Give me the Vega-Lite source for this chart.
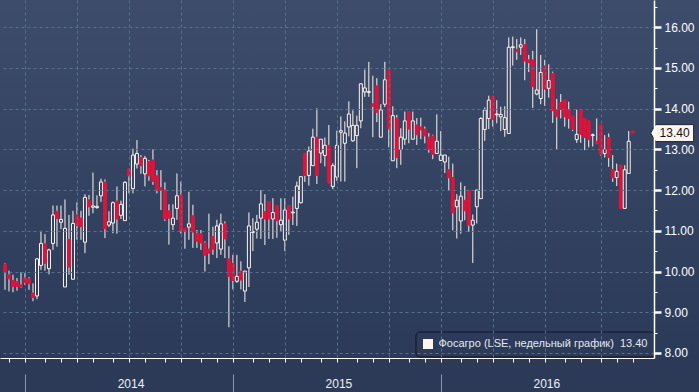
{
  "$schema": "https://vega.github.io/schema/vega-lite/v6.json",
  "width": 654,
  "height": 358,
  "autosize": "none",
  "padding": {"left": 0, "top": 0, "right": 45, "bottom": 34},
  "background": "#2c3a58",
  "config": {
    "view": {"stroke": null, "fill": {"gradient": "linear", "x1": 0, "y1": 0, "x2": 0, "y2": 1, "stops": [{"offset": 0, "color": "#3d4c6a"}, {"offset": 1, "color": "#2c3a59"}]}},
    "font": "Liberation Sans",
    "legend": {
      "orient": "none", "legendX": 415.5, "legendY": 331.5,
      "strokeColor": "#0e1522", "cornerRadius": 4, "padding": 7,
      "symbolType": "square", "symbolSize": 100, "symbolStrokeWidth": 0, "symbolOpacity": 1,
      "labelColor": "#e6e8ec", "labelFont": "Liberation Sans", "labelFontSize": 11, "labelOffset": 5, "labelLimit": 400
    }
  },
  "data": {"values": [
    {"date": "2013-11-29", "open": 10.17, "high": 10.2, "low": 9.55, "close": 10.0},
    {"date": "2013-12-06", "open": 9.92, "high": 10.02, "low": 9.51, "close": 9.82},
    {"date": "2013-12-13", "open": 9.78, "high": 9.92, "low": 9.49, "close": 9.63},
    {"date": "2013-12-20", "open": 9.75, "high": 9.84, "low": 9.53, "close": 9.63},
    {"date": "2013-12-27", "open": 9.67, "high": 9.98, "low": 9.6, "close": 9.62},
    {"date": "2014-01-03", "open": 9.84, "high": 9.96, "low": 9.67, "close": 9.73},
    {"date": "2014-01-10", "open": 9.82, "high": 9.86, "low": 9.55, "close": 9.7},
    {"date": "2014-01-17", "open": 9.47, "high": 9.71, "low": 9.27, "close": 9.36},
    {"date": "2014-01-24", "open": 9.4, "high": 10.33, "low": 9.32, "close": 10.31},
    {"date": "2014-01-31", "open": 10.15, "high": 11.0, "low": 10.04, "close": 10.69},
    {"date": "2014-02-07", "open": 10.68, "high": 10.92, "low": 10.02, "close": 10.2},
    {"date": "2014-02-14", "open": 10.07, "high": 10.56, "low": 9.93, "close": 10.53},
    {"date": "2014-02-21", "open": 10.69, "high": 11.62, "low": 10.53, "close": 11.39},
    {"date": "2014-02-28", "open": 11.48, "high": 11.62, "low": 10.61, "close": 11.3},
    {"date": "2014-03-07", "open": 11.21, "high": 11.62, "low": 11.04, "close": 11.28},
    {"date": "2014-03-14", "open": 9.62, "high": 11.77, "low": 9.62, "close": 11.06},
    {"date": "2014-03-21", "open": 10.79, "high": 11.39, "low": 9.92, "close": 10.11},
    {"date": "2014-03-28", "open": 9.81, "high": 11.49, "low": 9.81, "close": 11.18},
    {"date": "2014-04-04", "open": 11.39, "high": 11.7, "low": 10.78, "close": 11.13},
    {"date": "2014-04-11", "open": 11.31, "high": 11.49, "low": 10.78, "close": 11.1},
    {"date": "2014-04-18", "open": 10.72, "high": 11.9, "low": 10.45, "close": 11.82},
    {"date": "2014-04-25", "open": 11.76, "high": 11.88, "low": 11.37, "close": 11.59},
    {"date": "2014-05-02", "open": 11.58, "high": 12.43, "low": 11.43, "close": 11.61},
    {"date": "2014-05-09", "open": 11.57, "high": 11.87, "low": 11.54, "close": 11.6},
    {"date": "2014-05-16", "open": 11.86, "high": 12.28, "low": 11.71, "close": 12.2},
    {"date": "2014-05-23", "open": 12.2, "high": 12.26, "low": 10.82, "close": 11.05},
    {"date": "2014-05-30", "open": 11.14, "high": 11.48, "low": 11.09, "close": 11.22},
    {"date": "2014-06-06", "open": 11.19, "high": 11.72, "low": 10.94, "close": 11.69},
    {"date": "2014-06-13", "open": 11.73, "high": 12.09, "low": 10.93, "close": 11.29},
    {"date": "2014-06-20", "open": 11.38, "high": 11.74, "low": 11.29, "close": 11.65},
    {"date": "2014-06-27", "open": 11.25, "high": 12.22, "low": 11.25, "close": 12.19},
    {"date": "2014-07-04", "open": 12.52, "high": 12.52, "low": 11.92, "close": 12.35},
    {"date": "2014-07-11", "open": 12.04, "high": 13.02, "low": 11.92, "close": 12.86},
    {"date": "2014-07-18", "open": 12.64, "high": 13.23, "low": 12.53, "close": 12.9},
    {"date": "2014-07-25", "open": 12.8, "high": 12.86, "low": 12.4, "close": 12.6},
    {"date": "2014-08-01", "open": 12.4, "high": 12.84, "low": 12.09, "close": 12.78},
    {"date": "2014-08-08", "open": 12.7, "high": 12.74, "low": 12.23, "close": 12.35},
    {"date": "2014-08-15", "open": 12.74, "high": 13.0, "low": 12.13, "close": 12.21},
    {"date": "2014-08-22", "open": 12.35, "high": 12.49, "low": 11.92, "close": 12.0},
    {"date": "2014-08-29", "open": 12.06, "high": 12.49, "low": 11.51, "close": 12.0},
    {"date": "2014-09-05", "open": 12.0, "high": 12.19, "low": 11.24, "close": 11.29},
    {"date": "2014-09-12", "open": 11.49, "high": 11.65, "low": 10.66, "close": 11.31},
    {"date": "2014-09-19", "open": 11.15, "high": 11.65, "low": 11.02, "close": 11.31},
    {"date": "2014-09-26", "open": 11.55, "high": 12.41, "low": 11.27, "close": 11.86},
    {"date": "2014-10-03", "open": 11.88, "high": 12.21, "low": 10.93, "close": 11.0},
    {"date": "2014-10-10", "open": 11.05, "high": 11.05, "low": 10.56, "close": 11.0},
    {"date": "2014-10-17", "open": 11.09, "high": 11.96, "low": 10.78, "close": 11.17},
    {"date": "2014-10-24", "open": 11.37, "high": 11.64, "low": 10.58, "close": 10.97},
    {"date": "2014-10-31", "open": 10.94, "high": 11.02, "low": 10.58, "close": 10.74},
    {"date": "2014-11-07", "open": 10.93, "high": 11.02, "low": 10.53, "close": 10.7},
    {"date": "2014-11-14", "open": 10.7, "high": 10.74, "low": 10.0, "close": 10.4},
    {"date": "2014-11-21", "open": 10.55, "high": 11.42, "low": 10.18, "close": 10.45},
    {"date": "2014-11-28", "open": 10.86, "high": 11.1, "low": 10.41, "close": 10.55},
    {"date": "2014-12-05", "open": 10.7, "high": 11.27, "low": 10.33, "close": 11.12},
    {"date": "2014-12-12", "open": 10.55, "high": 11.42, "low": 10.41, "close": 11.17},
    {"date": "2014-12-19", "open": 11.17, "high": 11.23, "low": 10.33, "close": 10.8},
    {"date": "2014-12-26", "open": 10.31, "high": 10.62, "low": 8.63, "close": 9.88},
    {"date": "2015-01-02", "open": 10.2, "high": 10.41, "low": 9.56, "close": 9.78},
    {"date": "2015-01-09", "open": 9.76, "high": 10.41, "low": 9.72, "close": 9.88},
    {"date": "2015-01-16", "open": 10.01, "high": 10.25, "low": 9.56, "close": 9.79},
    {"date": "2015-01-23", "open": 9.52, "high": 10.01, "low": 9.25, "close": 10.01},
    {"date": "2015-01-30", "open": 10.09, "high": 11.45, "low": 9.62, "close": 11.12},
    {"date": "2015-02-06", "open": 10.96, "high": 11.31, "low": 10.5, "close": 10.98},
    {"date": "2015-02-13", "open": 11.04, "high": 11.39, "low": 10.81, "close": 11.21},
    {"date": "2015-02-20", "open": 11.31, "high": 12.0, "low": 10.8, "close": 11.66},
    {"date": "2015-02-27", "open": 11.47, "high": 11.9, "low": 10.65, "close": 11.29},
    {"date": "2015-03-06", "open": 11.72, "high": 11.72, "low": 10.8, "close": 11.29},
    {"date": "2015-03-13", "open": 11.29, "high": 11.8, "low": 10.8, "close": 11.45},
    {"date": "2015-03-20", "open": 11.62, "high": 11.62, "low": 10.83, "close": 11.25},
    {"date": "2015-03-27", "open": 11.15, "high": 11.8, "low": 10.98, "close": 11.26},
    {"date": "2015-04-03", "open": 10.77, "high": 11.8, "low": 10.5, "close": 11.51},
    {"date": "2015-04-10", "open": 11.62, "high": 11.62, "low": 10.9, "close": 11.29},
    {"date": "2015-04-17", "open": 11.44, "high": 11.84, "low": 11.14, "close": 11.46},
    {"date": "2015-04-24", "open": 11.55, "high": 12.21, "low": 11.12, "close": 12.1},
    {"date": "2015-05-01", "open": 11.69, "high": 12.33, "low": 11.67, "close": 12.33},
    {"date": "2015-05-08", "open": 12.91, "high": 12.91, "low": 12.2, "close": 12.36},
    {"date": "2015-05-15", "open": 12.36, "high": 13.07, "low": 12.11, "close": 12.96},
    {"date": "2015-05-22", "open": 12.6, "high": 13.51, "low": 12.6, "close": 13.3},
    {"date": "2015-05-29", "open": 13.3, "high": 14.01, "low": 12.15, "close": 12.36},
    {"date": "2015-06-05", "open": 12.91, "high": 13.25, "low": 12.66, "close": 13.25},
    {"date": "2015-06-12", "open": 12.85, "high": 13.29, "low": 12.58, "close": 13.1},
    {"date": "2015-06-19", "open": 13.1, "high": 13.6, "low": 12.17, "close": 12.18},
    {"date": "2015-06-26", "open": 12.09, "high": 12.66, "low": 12.02, "close": 12.6},
    {"date": "2015-07-03", "open": 12.32, "high": 13.46, "low": 12.23, "close": 13.1},
    {"date": "2015-07-10", "open": 13.42, "high": 13.81, "low": 12.21, "close": 13.46},
    {"date": "2015-07-17", "open": 13.15, "high": 13.69, "low": 12.21, "close": 13.4},
    {"date": "2015-07-24", "open": 13.55, "high": 14.18, "low": 13.32, "close": 13.87},
    {"date": "2015-07-31", "open": 13.21, "high": 13.96, "low": 13.19, "close": 13.59},
    {"date": "2015-08-07", "open": 13.34, "high": 13.83, "low": 12.54, "close": 13.59},
    {"date": "2015-08-14", "open": 13.7, "high": 14.63, "low": 13.52, "close": 14.61},
    {"date": "2015-08-21", "open": 14.41, "high": 14.96, "low": 14.29, "close": 14.51},
    {"date": "2015-08-28", "open": 14.4, "high": 15.15, "low": 14.29, "close": 14.42},
    {"date": "2015-09-04", "open": 14.12, "high": 14.81, "low": 13.3, "close": 14.06},
    {"date": "2015-09-11", "open": 14.56, "high": 14.75, "low": 13.67, "close": 13.91},
    {"date": "2015-09-18", "open": 13.3, "high": 14.11, "low": 13.3, "close": 13.97},
    {"date": "2015-09-25", "open": 14.11, "high": 15.15, "low": 14.04, "close": 14.71},
    {"date": "2015-10-02", "open": 14.96, "high": 14.96, "low": 13.05, "close": 13.5},
    {"date": "2015-10-09", "open": 12.72, "high": 14.06, "low": 12.72, "close": 13.83},
    {"date": "2015-10-16", "open": 13.77, "high": 13.85, "low": 12.54, "close": 12.8},
    {"date": "2015-10-23", "open": 13.0, "high": 13.52, "low": 12.62, "close": 13.3},
    {"date": "2015-10-30", "open": 13.25, "high": 13.93, "low": 13.11, "close": 13.7},
    {"date": "2015-11-06", "open": 13.93, "high": 13.93, "low": 13.15, "close": 13.5},
    {"date": "2015-11-13", "open": 13.25, "high": 13.93, "low": 13.25, "close": 13.7},
    {"date": "2015-11-20", "open": 13.6, "high": 13.77, "low": 13.11, "close": 13.36},
    {"date": "2015-11-27", "open": 13.55, "high": 13.78, "low": 13.25, "close": 13.48},
    {"date": "2015-12-04", "open": 13.5, "high": 13.56, "low": 13.15, "close": 13.33},
    {"date": "2015-12-11", "open": 13.3, "high": 13.4, "low": 12.92, "close": 13.0},
    {"date": "2015-12-18", "open": 13.33, "high": 13.36, "low": 12.76, "close": 12.88},
    {"date": "2015-12-25", "open": 12.9, "high": 13.86, "low": 12.9, "close": 13.2},
    {"date": "2016-01-01", "open": 12.73, "high": 13.45, "low": 12.72, "close": 12.86},
    {"date": "2016-01-08", "open": 12.69, "high": 12.86, "low": 12.42, "close": 12.86},
    {"date": "2016-01-15", "open": 12.5, "high": 12.82, "low": 12.0, "close": 12.3},
    {"date": "2016-01-22", "open": 12.31, "high": 12.65, "low": 11.01, "close": 11.44},
    {"date": "2016-01-29", "open": 11.59, "high": 11.9, "low": 10.81, "close": 11.75},
    {"date": "2016-02-05", "open": 11.24, "high": 12.19, "low": 10.93, "close": 11.85},
    {"date": "2016-02-12", "open": 11.75, "high": 12.1, "low": 11.26, "close": 11.49},
    {"date": "2016-02-19", "open": 12.0, "high": 12.0, "low": 10.97, "close": 11.14},
    {"date": "2016-02-26", "open": 11.14, "high": 11.4, "low": 10.21, "close": 11.26},
    {"date": "2016-03-04", "open": 11.59, "high": 12.0, "low": 11.18, "close": 12.0},
    {"date": "2016-03-11", "open": 11.79, "high": 13.79, "low": 11.79, "close": 13.76},
    {"date": "2016-03-18", "open": 13.49, "high": 14.03, "low": 13.21, "close": 13.97},
    {"date": "2016-03-25", "open": 13.76, "high": 14.32, "low": 13.5, "close": 14.21},
    {"date": "2016-04-01", "open": 14.31, "high": 14.31, "low": 13.56, "close": 13.74},
    {"date": "2016-04-08", "open": 13.85, "high": 14.21, "low": 13.64, "close": 13.87},
    {"date": "2016-04-15", "open": 13.8, "high": 14.05, "low": 13.45, "close": 13.86},
    {"date": "2016-04-22", "open": 13.49, "high": 14.06, "low": 13.31, "close": 13.78},
    {"date": "2016-04-29", "open": 13.39, "high": 15.75, "low": 13.39, "close": 15.51},
    {"date": "2016-05-06", "open": 15.5, "high": 15.77, "low": 15.06, "close": 15.52},
    {"date": "2016-05-13", "open": 15.46, "high": 15.71, "low": 15.2, "close": 15.4},
    {"date": "2016-05-20", "open": 15.51, "high": 15.75, "low": 15.32, "close": 15.57},
    {"date": "2016-05-27", "open": 15.57, "high": 15.71, "low": 14.7, "close": 15.17},
    {"date": "2016-06-03", "open": 15.2, "high": 15.32, "low": 14.9, "close": 15.13},
    {"date": "2016-06-10", "open": 15.2, "high": 15.42, "low": 14.02, "close": 14.54},
    {"date": "2016-06-17", "open": 14.36, "high": 15.95, "low": 14.33, "close": 14.46},
    {"date": "2016-06-24", "open": 14.25, "high": 15.32, "low": 14.11, "close": 14.89},
    {"date": "2016-07-01", "open": 15.05, "high": 15.2, "low": 14.07, "close": 14.48},
    {"date": "2016-07-08", "open": 14.5, "high": 15.09, "low": 14.27, "close": 14.69},
    {"date": "2016-07-15", "open": 14.87, "high": 14.91, "low": 13.65, "close": 13.95},
    {"date": "2016-07-22", "open": 13.98, "high": 14.24, "low": 13.0, "close": 13.8},
    {"date": "2016-07-29", "open": 14.15, "high": 14.36, "low": 13.76, "close": 13.98},
    {"date": "2016-08-05", "open": 14.21, "high": 14.21, "low": 13.56, "close": 13.8},
    {"date": "2016-08-12", "open": 13.97, "high": 14.17, "low": 13.51, "close": 13.76},
    {"date": "2016-08-19", "open": 13.82, "high": 13.82, "low": 13.45, "close": 13.49},
    {"date": "2016-08-26", "open": 13.24, "high": 13.98, "low": 13.16, "close": 13.37},
    {"date": "2016-09-02", "open": 13.98, "high": 13.98, "low": 13.16, "close": 13.37},
    {"date": "2016-09-09", "open": 13.76, "high": 13.76, "low": 12.98, "close": 13.29},
    {"date": "2016-09-16", "open": 13.7, "high": 13.7, "low": 13.05, "close": 13.24},
    {"date": "2016-09-23", "open": 13.34, "high": 13.39, "low": 13.07, "close": 13.36},
    {"date": "2016-09-30", "open": 13.2, "high": 13.76, "low": 13.13, "close": 13.15},
    {"date": "2016-10-07", "open": 13.6, "high": 13.6, "low": 12.85, "close": 12.88},
    {"date": "2016-10-14", "open": 12.9, "high": 13.35, "low": 12.8, "close": 13.0},
    {"date": "2016-10-21", "open": 13.29, "high": 13.39, "low": 12.57, "close": 12.8},
    {"date": "2016-10-28", "open": 12.51, "high": 12.86, "low": 12.2, "close": 12.3},
    {"date": "2016-11-04", "open": 12.31, "high": 12.65, "low": 12.1, "close": 12.46},
    {"date": "2016-11-11", "open": 12.61, "high": 12.61, "low": 11.55, "close": 11.55},
    {"date": "2016-11-18", "open": 11.55, "high": 12.61, "low": 11.55, "close": 12.5},
    {"date": "2016-11-25", "open": 12.41, "high": 13.45, "low": 12.41, "close": 13.2},
    {"date": "2016-12-02", "open": 13.45, "high": 13.45, "low": 13.4, "close": 13.4}
  ]},
  "resolve": {"axis": {"x": "independent", "y": "independent"}},
  "layer": [
    {
      "mark": {"type": "rect", "fill": {"gradient": "linear", "x1": 0, "y1": 0, "x2": 0, "y2": 1, "stops": [{"offset": 0, "color": "#3d4c6a"}, {"offset": 1, "color": "#2c3a59"}]}, "clip": false},
      "encoding": {
        "x": {"datum": {"year": 2016, "month": 12, "date": 30, "hours": 12, "utc": true}, "type": "temporal", "axis": null},
        "x2": {"datum": {"year": 2017, "month": 3, "date": 31, "utc": true}},
        "y": {"datum": 16.67, "type": "quantitative", "axis": null},
        "y2": {"datum": 7.875}
      }
    },
    {
      "mark": {"type": "rule", "color": "#fff3ec", "strokeWidth": 1},
      "encoding": {
        "x": {
          "field": "date", "type": "temporal",
          "scale": {"type": "utc", "domain": [{"year": 2013, "month": 11, "date": 29, "utc": true}, {"year": 2016, "month": 12, "date": 30, "hours": 12, "utc": true}]},
          "axis": {
            "orient": "bottom", "title": null, "labels": false, "zindex": 1,
            "values": [
              {"year": 2013, "month": 12, "date": 6, "utc": true},
              {"year": 2014, "month": 1, "date": 3, "utc": true}, {"year": 2014, "month": 2, "date": 7, "utc": true}, {"year": 2014, "month": 3, "date": 7, "utc": true}, {"year": 2014, "month": 4, "date": 4, "utc": true}, {"year": 2014, "month": 5, "date": 2, "utc": true}, {"year": 2014, "month": 6, "date": 6, "utc": true}, {"year": 2014, "month": 7, "date": 4, "utc": true}, {"year": 2014, "month": 8, "date": 1, "utc": true}, {"year": 2014, "month": 9, "date": 5, "utc": true}, {"year": 2014, "month": 10, "date": 3, "utc": true}, {"year": 2014, "month": 11, "date": 7, "utc": true}, {"year": 2014, "month": 12, "date": 5, "utc": true},
              {"year": 2015, "month": 1, "date": 2, "utc": true}, {"year": 2015, "month": 2, "date": 6, "utc": true}, {"year": 2015, "month": 3, "date": 6, "utc": true}, {"year": 2015, "month": 4, "date": 3, "utc": true}, {"year": 2015, "month": 5, "date": 1, "utc": true}, {"year": 2015, "month": 6, "date": 5, "utc": true}, {"year": 2015, "month": 7, "date": 3, "utc": true}, {"year": 2015, "month": 8, "date": 7, "utc": true}, {"year": 2015, "month": 9, "date": 4, "utc": true}, {"year": 2015, "month": 10, "date": 2, "utc": true}, {"year": 2015, "month": 11, "date": 6, "utc": true}, {"year": 2015, "month": 12, "date": 4, "utc": true},
              {"year": 2016, "month": 1, "date": 1, "utc": true}, {"year": 2016, "month": 2, "date": 5, "utc": true}, {"year": 2016, "month": 3, "date": 4, "utc": true}, {"year": 2016, "month": 4, "date": 1, "utc": true}, {"year": 2016, "month": 5, "date": 6, "utc": true}, {"year": 2016, "month": 6, "date": 3, "utc": true}, {"year": 2016, "month": 7, "date": 1, "utc": true}, {"year": 2016, "month": 8, "date": 5, "utc": true}, {"year": 2016, "month": 9, "date": 2, "utc": true}, {"year": 2016, "month": 10, "date": 7, "utc": true}, {"year": 2016, "month": 11, "date": 4, "utc": true}, {"year": 2016, "month": 12, "date": 2, "utc": true}
            ],
            "domain": true, "domainColor": "#ffffff", "domainWidth": 1,
            "ticks": true, "tickSize": 4, "tickColor": "#ffffff", "tickWidth": 1,
            "grid": true, "gridColor": "#56718f", "gridDash": [3, 3], "gridWidth": 1,
            "gridOpacity": {"condition": {"test": "utcmonth(datum.value) % 3 === 0", "value": 1}, "value": 0}
          }
        },
        "y": {
          "field": "high", "type": "quantitative",
          "scale": {"domain": [7.875, 16.67], "nice": false, "zero": false},
          "axis": {
            "orient": "right", "title": null, "zindex": 1,
            "values": [8, 8.5, 9, 9.5, 10, 10.5, 11, 11.5, 12, 12.5, 13, 13.5, 14, 14.5, 15, 15.5, 16, 16.5],
            "labelExpr": "datum.value % 1 === 0 ? format(datum.value, '.2f') : ''",
            "tickSize": {"condition": {"test": "datum.value % 1 === 0", "value": 7}, "value": 3},
            "tickWidth": {"condition": {"test": "datum.value % 1 === 0", "value": 2.5}, "value": 1},
            "tickColor": "#ffffff",
            "domainColor": "#ffffff", "domainWidth": 1.5,
            "grid": true, "gridColor": "#56718f", "gridDash": [3, 3], "gridWidth": 1,
            "gridOpacity": {"condition": {"test": "datum.value % 1 === 0", "value": 1}, "value": 0},
            "labelColor": "#ffffff", "labelFont": "Liberation Sans", "labelFontSize": 12, "labelPadding": 3,
            "labelOverlap": false, "labelFlush": false, "labelBound": false
          }
        },
        "y2": {"field": "close"}
      }
    },
    {
      "mark": {"type": "rule", "color": "#fff3ec", "strokeWidth": 1},
      "encoding": {
        "x": {"field": "date", "type": "temporal", "axis": null},
        "y": {"field": "low", "type": "quantitative", "axis": null},
        "y2": {"field": "open"}
      }
    },
    {
      "mark": {"type": "bar", "size": 3, "strokeWidth": 1},
      "encoding": {
        "x": {
          "field": "date", "type": "temporal",
          "axis": {
            "orient": "bottom", "offset": 16, "title": null, "zindex": 1,
            "values": [{"year": 2014, "month": 1, "date": 3, "utc": true}, {"year": 2015, "month": 1, "date": 2, "utc": true}, {"year": 2016, "month": 1, "date": 1, "utc": true}],
            "domain": false, "grid": false,
            "ticks": true, "tickSize": 18, "tickColor": "#8e98ab", "tickWidth": 1,
            "labelExpr": "utcFormat(datum.value, '%Y')",
            "labelOffset": 105.5, "labelPadding": -14, "labelColor": "#eef0f4",
            "labelFont": "Liberation Sans", "labelFontSize": 12,
            "labelFlush": false, "labelOverlap": false, "labelBound": false
          }
        },
        "y": {"field": "open", "type": "quantitative", "axis": null},
        "y2": {"field": "close"},
        "fill": {"condition": {"test": "datum.close < datum.open", "value": "#dc143c"}, "value": "transparent"},
        "stroke": {"condition": {"test": "datum.close < datum.open", "value": "#dc143c"}, "value": "#fff3ec"}
      }
    },
    {
      "transform": [{"filter": {"field": "date", "timeUnit": "utcyearmonthdate", "equal": {"year": 2016, "month": 12, "date": 2, "utc": true}}}],
      "mark": {"type": "point", "filled": true, "opacity": 1, "shape": "M-1,0L-0.77,-0.395L1,-0.395L1,0.395L-0.77,0.395Z", "size": 1849, "stroke": "#1a2233", "strokeWidth": 1},
      "encoding": {
        "x": {"datum": {"year": 2017, "month": 2, "date": 9, "utc": true}, "type": "temporal", "axis": null},
        "y": {"field": "close", "type": "quantitative", "axis": null},
        "color": {"datum": "Фосагро (LSE, недельный график) \u00a013.40", "type": "nominal", "scale": {"range": ["#fff4ee"]}, "legend": {"title": null, "symbolType": "square", "symbolStrokeWidth": 0}}
      }
    },
    {
      "transform": [{"filter": {"field": "date", "timeUnit": "utcyearmonthdate", "equal": {"year": 2016, "month": 12, "date": 2, "utc": true}}}],
      "mark": {"type": "text", "color": "#111111", "font": "Liberation Sans", "fontSize": 12, "align": "center", "baseline": "middle", "dx": 2.5},
      "encoding": {
        "x": {"datum": {"year": 2017, "month": 2, "date": 9, "utc": true}, "type": "temporal", "axis": null},
        "y": {"field": "close", "type": "quantitative", "axis": null},
        "text": {"field": "close", "type": "quantitative", "format": ".2f"}
      }
    }
  ]
}
